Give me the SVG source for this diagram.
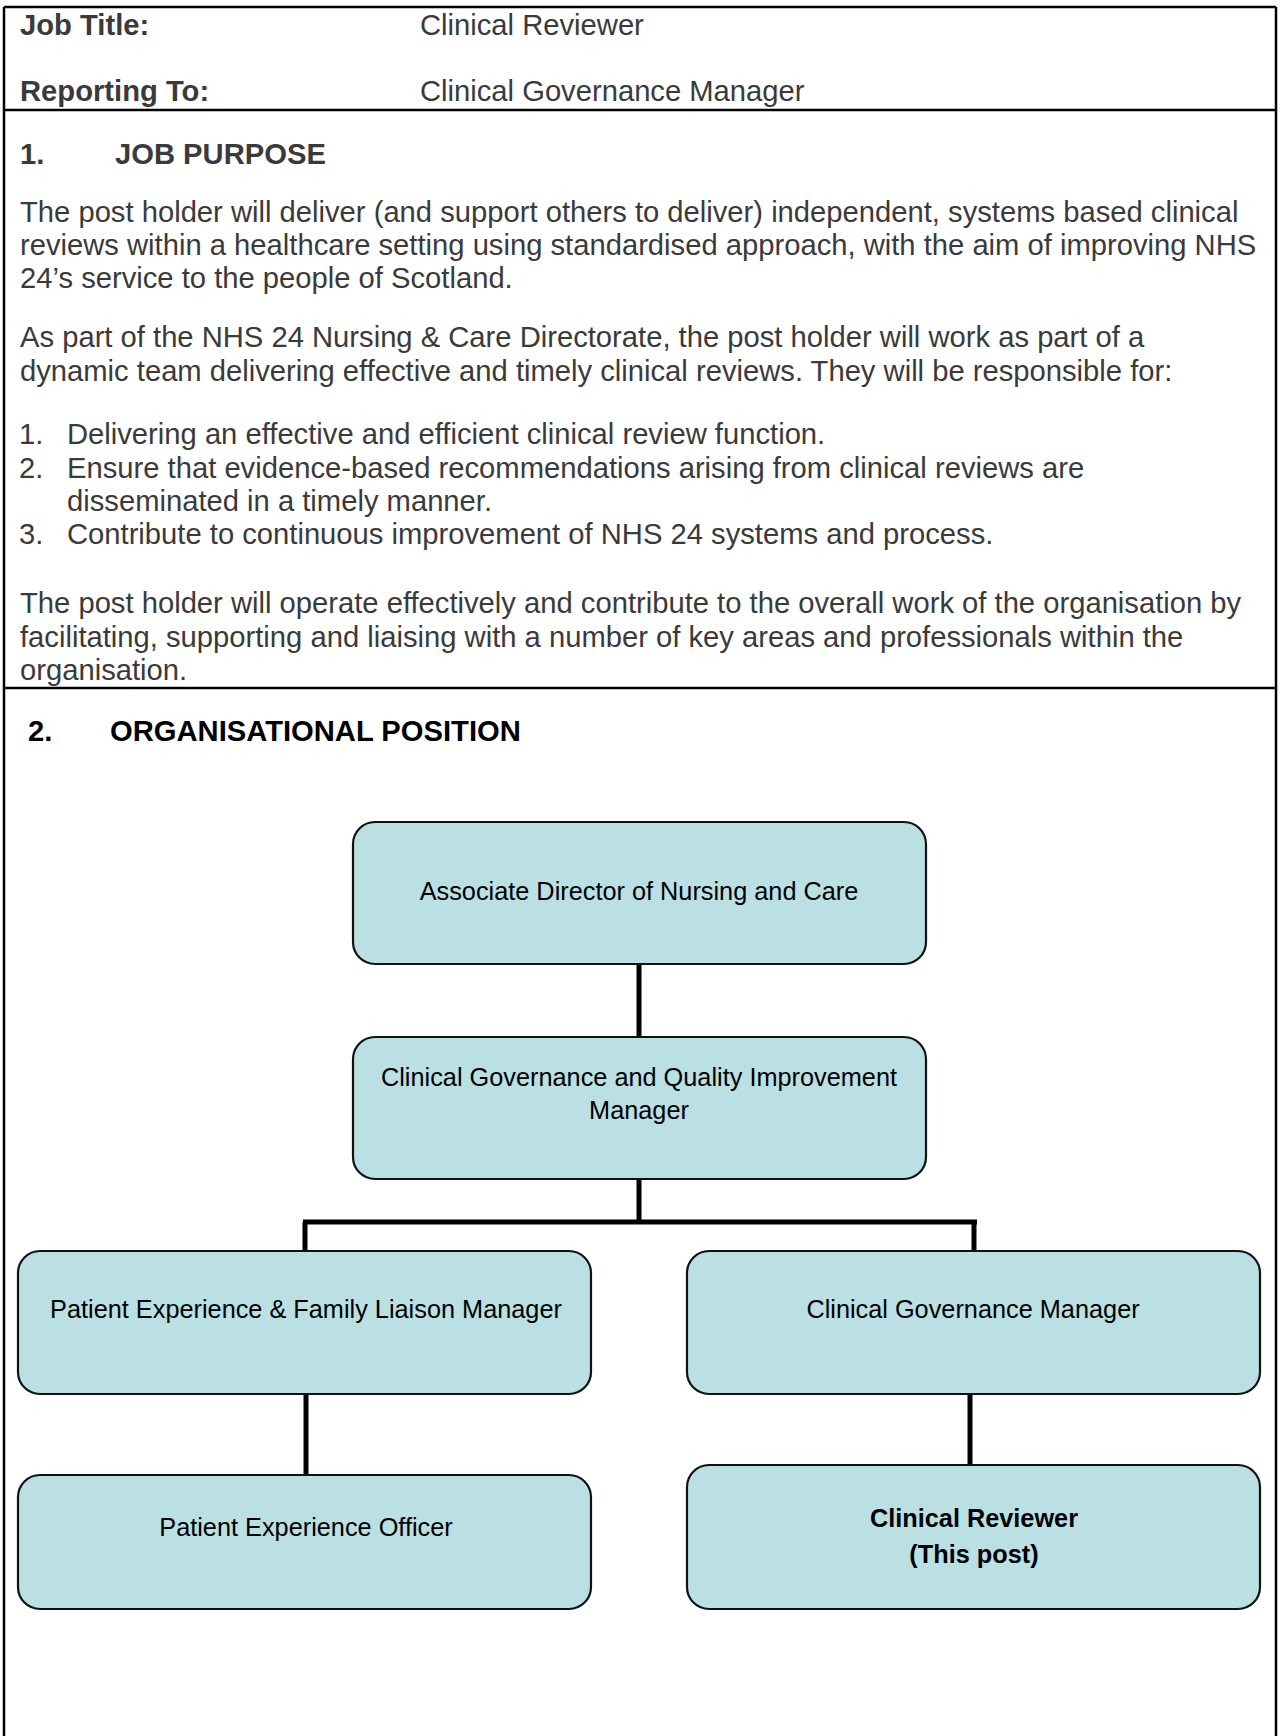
<svg xmlns="http://www.w3.org/2000/svg" width="1280" height="1736" viewBox="0 0 1280 1736">
<style>
.frame{stroke:#000;stroke-width:2.5;fill:none}
.body{font-family:"Liberation Sans",Arial,sans-serif;font-size:29.2px;fill:#3a3a3a}
.bold{font-weight:bold}
.head{font-family:"Liberation Sans",Arial,sans-serif;font-size:29.2px;font-weight:bold;fill:#000}
.box{fill:#bae0e3;stroke:#111;stroke-width:2.2}
.bt{font-family:"Liberation Sans",Arial,sans-serif;font-size:25.3px;fill:#000;text-anchor:middle}
.conn{stroke:#000;stroke-width:5;fill:none}
</style>
<rect x="0" y="0" width="1280" height="1736" fill="#fff"/>
<g id="frame">
<line class="frame" x1="4" y1="7" x2="1276" y2="7"/>
<line class="frame" x1="4" y1="7" x2="4" y2="1736"/>
<line class="frame" x1="1276" y1="7" x2="1276" y2="1736"/>
<line class="frame" x1="4" y1="110" x2="1276" y2="110"/>
<line class="frame" x1="4" y1="688" x2="1276" y2="688"/>
</g>
<g id="header">
<text class="body bold" x="20" y="35">Job Title:</text>
<text class="body" x="420" y="35">Clinical Reviewer</text>
<text class="body bold" x="20" y="101">Reporting To:</text>
<text class="body" x="420" y="101">Clinical Governance Manager</text>
</g>
<g id="job-purpose">
<text class="body bold" x="20" y="164">1.</text>
<text class="body bold" x="115" y="164">JOB PURPOSE</text>
<text class="body" x="20" y="222">The post holder will deliver (and support others to deliver) independent, systems based clinical</text>
<text class="body" x="20" y="255">reviews within a healthcare setting using standardised approach, with the aim of improving NHS</text>
<text class="body" x="20" y="288">24’s service to the people of Scotland.</text>
<text class="body" x="20" y="347">As part of the NHS 24 Nursing &amp; Care Directorate, the post holder will work as part of a</text>
<text class="body" x="20" y="381">dynamic team delivering effective and timely clinical reviews. They will be responsible for:</text>
<text class="body" x="19" y="444">1.</text>
<text class="body" x="67" y="444">Delivering an effective and efficient clinical review function.</text>
<text class="body" x="19" y="478">2.</text>
<text class="body" x="67" y="478">Ensure that evidence-based recommendations arising from clinical reviews are</text>
<text class="body" x="67" y="511">disseminated in a timely manner.</text>
<text class="body" x="19" y="544">3.</text>
<text class="body" x="67" y="544">Contribute to continuous improvement of NHS 24 systems and process.</text>
<text class="body" x="20" y="613">The post holder will operate effectively and contribute to the overall work of the organisation by</text>
<text class="body" x="20" y="647">facilitating, supporting and liaising with a number of key areas and professionals within the</text>
<text class="body" x="20" y="680">organisation.</text>
</g>
<g id="org-heading">
<text class="head" x="28" y="741">2.</text>
<text class="head" x="110" y="741">ORGANISATIONAL POSITION</text>
</g>
<g id="connectors">
<line class="conn" x1="639" y1="964" x2="639" y2="1037"/>
<line class="conn" x1="639" y1="1179" x2="639" y2="1222"/>
<line class="conn" x1="303" y1="1222" x2="977" y2="1222" stroke-width="6"/>
<line class="conn" x1="305" y1="1222" x2="305" y2="1251"/>
<line class="conn" x1="974" y1="1222" x2="974" y2="1251"/>
<line class="conn" x1="306" y1="1394" x2="306" y2="1475"/>
<line class="conn" x1="970" y1="1388" x2="970" y2="1465"/>
</g>
<g id="node-assoc">
<rect class="box" x="353" y="822" width="573" height="142" rx="22"/>
<text class="bt" x="639" y="900">Associate Director of Nursing and Care</text>
</g>
<g id="node-cgqi">
<rect class="box" x="353" y="1037" width="573" height="142" rx="22"/>
<text class="bt" x="639" y="1086">Clinical Governance and Quality Improvement</text>
<text class="bt" x="639" y="1119">Manager</text>
</g>
<g id="node-pefl">
<rect class="box" x="18" y="1251" width="573" height="143" rx="22"/>
<text class="bt" x="306" y="1318">Patient Experience &amp; Family Liaison Manager</text>
</g>
<g id="node-cgm">
<rect class="box" x="687" y="1251" width="573" height="143" rx="22"/>
<text class="bt" x="973" y="1318">Clinical Governance Manager</text>
</g>
<g id="node-peo">
<rect class="box" x="18" y="1475" width="573" height="134" rx="22"/>
<text class="bt" x="306" y="1536">Patient Experience Officer</text>
</g>
<g id="node-cr">
<rect class="box" x="687" y="1465" width="573" height="144" rx="22"/>
<text class="bt" x="974" y="1527" font-weight="bold">Clinical Reviewer</text>
<text class="bt" x="974" y="1563" font-weight="bold">(This post)</text>
</g>
</svg>
